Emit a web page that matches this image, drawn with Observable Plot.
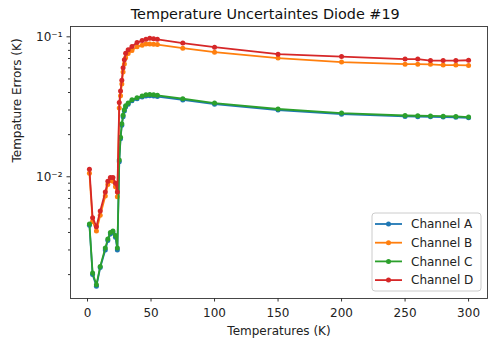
<!DOCTYPE html>
<html>
<head>
<meta charset="utf-8">
<script src="https://cdn.jsdelivr.net/npm/d3@7"></script>
<script src="https://cdn.jsdelivr.net/npm/@observablehq/plot@0.6"></script>
<style>
  html, body { margin: 0; padding: 0; background: white; }
  svg { display: block; }
</style>
</head>
<body>
<div id="chart"></div>
<script>
const title = "Temperature Uncertaintes Diode #19";
const xLabel = "Temperatures (K)";
const yLabel = "Tempature Errors (K)";
const seriesNames = ["Channel A", "Channel B", "Channel C", "Channel D"];
const seriesColors = ["#1f77b4", "#ff7f0e", "#2ca02c", "#d62728"];

const temps = [1.5, 4, 7, 10, 14, 16, 18, 20, 22, 23.5, 25, 26, 27, 28, 29, 30, 32, 35, 39, 43, 46, 49, 52, 55, 75, 100, 150, 200, 250, 260, 270, 280, 290, 300];

const channelA = [0.0045, 0.0020, 0.00165, 0.00225, 0.0030, 0.0035, 0.0039, 0.0040, 0.0037, 0.0030, 0.0128, 0.0187, 0.0233, 0.0268, 0.0295, 0.0315, 0.0330, 0.0349, 0.0361, 0.0371, 0.0378, 0.0380, 0.0378, 0.0374, 0.0354, 0.0330, 0.0300, 0.0280, 0.0270, 0.0269, 0.0268, 0.0267, 0.0266, 0.0264];
const channelB = [0.0106, 0.0048, 0.0041, 0.0053, 0.0073, 0.0088, 0.0094, 0.0093, 0.0085, 0.0072, 0.031, 0.038, 0.046, 0.056, 0.064, 0.071, 0.076, 0.080, 0.085, 0.087, 0.089, 0.089, 0.0885, 0.088, 0.083, 0.0777, 0.0705, 0.066, 0.0638, 0.0638, 0.0636, 0.0628, 0.0628, 0.0625];
const channelC = [0.0046, 0.00205, 0.00169, 0.00229, 0.0031, 0.0036, 0.0040, 0.0041, 0.0038, 0.0031, 0.0132, 0.0192, 0.0239, 0.0275, 0.0301, 0.0322, 0.0336, 0.0355, 0.0367, 0.0377, 0.0385, 0.0387, 0.0386, 0.0382, 0.0361, 0.0336, 0.0305, 0.0285, 0.0274, 0.0273, 0.0272, 0.0271, 0.0270, 0.0267];
const channelD = [0.0113, 0.0051, 0.0044, 0.0057, 0.0078, 0.0093, 0.0099, 0.0099, 0.0090, 0.0078, 0.034, 0.041, 0.049, 0.060, 0.0685, 0.0764, 0.081, 0.0852, 0.091, 0.094, 0.096, 0.0975, 0.097, 0.096, 0.0902, 0.0844, 0.0752, 0.0722, 0.0693, 0.0693, 0.0676, 0.0676, 0.0676, 0.068];

const xTicks = [0, 50, 100, 150, 200, 250, 300];
const yMajorTicks = [0.01, 0.1];
const yMajorLabels = ["10\u207B\u00B2", "10\u207B\u00B9"];
const yMinorTicks = [0.002, 0.003, 0.004, 0.005, 0.006, 0.007, 0.008, 0.009, 0.02, 0.03, 0.04, 0.05, 0.06, 0.07, 0.08, 0.09];

const allSeries = [channelA, channelB, channelC, channelD];
const rows = [];
allSeries.forEach((vals, i) => {
  vals.forEach((v, j) => rows.push({t: temps[j], v, s: seriesNames[i]}));
});

const font = "DejaVu Sans, sans-serif";
const seriesMarks = [];
seriesNames.forEach((name) => {
  const d = rows.filter(r => r.s === name);
  seriesMarks.push(Plot.line(d, {x: "t", y: "v", stroke: "s", strokeWidth: 1.8}));
  seriesMarks.push(Plot.dot(d, {x: "t", y: "v", fill: "s", r: 2.5}));
});

const chart = Plot.plot({
  width: 489,
  height: 341,
  marginLeft: 70,
  marginRight: 2,
  marginTop: 26,
  marginBottom: 43,
  style: {fontFamily: font, fontSize: "12px", background: "white", color: "#222"},
  x: {domain: [-13.4, 314.9]},
  y: {type: "log", domain: [0.00135, 0.1185]},
  color: {domain: seriesNames, range: seriesColors},
  marks: [
    ...seriesMarks,
    Plot.frame({stroke: "#333", strokeWidth: 0.9}),
    Plot.axisX({ticks: xTicks, tickSize: 3.5, tickPadding: 6, label: null, fontSize: 12, stroke: "#333"}),
    Plot.axisY({ticks: yMinorTicks, tickSize: 2, tickFormat: () => "", label: null, stroke: "#333"}),
    Plot.axisY({ticks: yMajorTicks, tickSize: 3.5, tickPadding: 4.5, tickFormat: (d) => yMajorLabels[yMajorTicks.indexOf(d)], label: null, fontSize: 12, stroke: "#333"}),
    Plot.text([xLabel], {frameAnchor: "bottom", lineAnchor: "middle", dy: 32.4, fontSize: 12, fill: "#222"}),
    Plot.text([yLabel], {frameAnchor: "left", lineAnchor: "middle", dx: -53, rotate: -90, fontSize: 12, fill: "#222"}),
    Plot.text([title], {frameAnchor: "top", lineAnchor: "middle", dx: -13.8, dy: -12.6, fontSize: 14.4, fill: "#111"})
  ]
});

document.getElementById("chart").appendChild(chart);

// legend
const svg = d3.select(chart);
const lg = svg.append("g").attr("font-family", font).attr("font-size", 12).attr("text-anchor", "start");
lg.append("rect").attr("x", 372).attr("y", 213).attr("width", 109).attr("height", 78)
  .attr("rx", 3).attr("fill", "white").attr("fill-opacity", 0.8).attr("stroke", "#ccc");
seriesNames.forEach((name, i) => {
  const y = 224 + i * 18.7;
  lg.append("line").attr("x1", 375).attr("x2", 402).attr("y1", y).attr("y2", y)
    .attr("stroke", seriesColors[i]).attr("stroke-width", 1.8);
  lg.append("circle").attr("cx", 388.5).attr("cy", y).attr("r", 2.5).attr("fill", seriesColors[i]);
  lg.append("text").attr("x", 411).attr("y", y).attr("dy", "0.35em").attr("fill", "#222").text(name);
});
</script>
</body>
</html>
